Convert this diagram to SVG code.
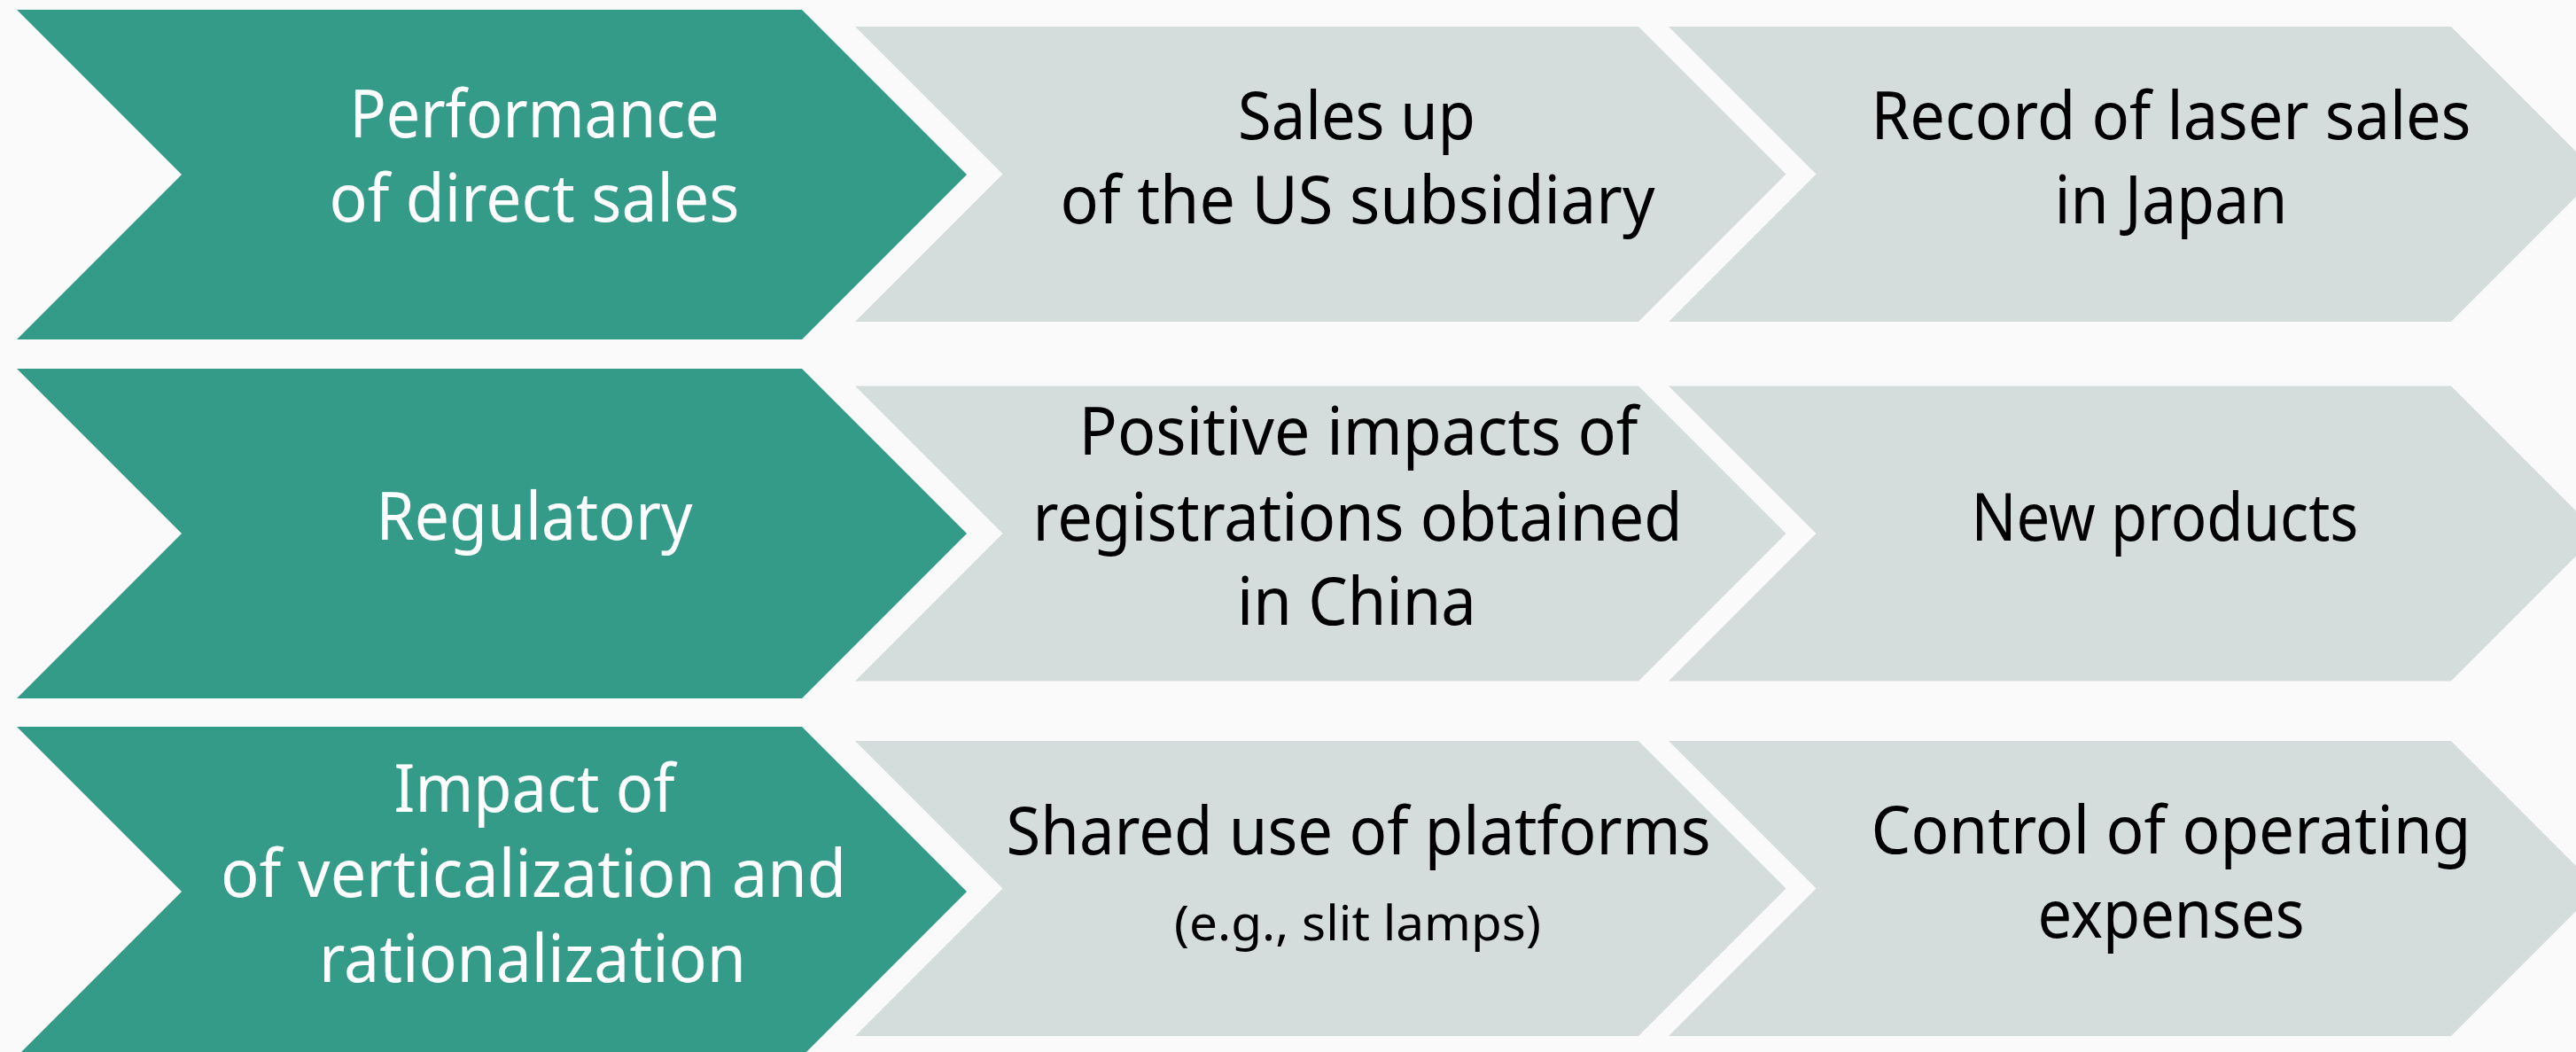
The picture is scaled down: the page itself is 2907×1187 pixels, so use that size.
<svg xmlns="http://www.w3.org/2000/svg" width="2907" height="1187" viewBox="0 0 2907 1187">
  <style>
    .bg { fill: #fafafa; }
    .lead { fill: #359b89; }
    .step { fill: #d5dcdc; }
    text { font-family: "Noto Sans", "Open Sans", "Liberation Sans", sans-serif; font-size: 75px; text-anchor: middle; }
    .lead-t { fill: #ffffff; }
    .step-t { fill: #000000; }
    .small { font-size: 54px; }
  </style>
  <rect class="bg" x="0" y="0" width="2907" height="1187"/>

  <!-- Row 1 -->
  <g id="direct-sales">
    <polygon class="lead" points="19,11 905,11 1091,197 905,383 19,383 205,197"/>
    <text class="lead-t" x="603" y="155" textLength="417" lengthAdjust="spacingAndGlyphs">Performance</text>
    <text class="lead-t" x="603" y="250" textLength="463" lengthAdjust="spacingAndGlyphs">of direct sales</text>
  </g>
  <g id="us-subsidiary">
    <polygon class="step" points="965,30 1849,30 2015.5,196.5 1849,363 965,363 1131.5,196.5"/>
    <text class="step-t" x="1531" y="157" textLength="268" lengthAdjust="spacingAndGlyphs">Sales up</text>
    <text class="step-t" x="1532" y="252" textLength="671" lengthAdjust="spacingAndGlyphs">of the US subsidiary</text>
  </g>
  <g id="laser-japan">
    <polygon class="step" points="1883,30 2766,30 2932.5,196.5 2766,363 1883,363 2049.5,196.5"/>
    <text class="step-t" x="2450" y="157" textLength="677" lengthAdjust="spacingAndGlyphs">Record of laser sales</text>
    <text class="step-t" x="2450" y="252" textLength="263" lengthAdjust="spacingAndGlyphs">in Japan</text>
  </g>

  <!-- Row 2 -->
  <g id="regulatory">
    <polygon class="lead" points="19,416 905,416 1091,602 905,788 19,788 205,602"/>
    <text class="lead-t" x="603" y="609" textLength="357" lengthAdjust="spacingAndGlyphs">Regulatory</text>
  </g>
  <g id="china-registrations">
    <polygon class="step" points="965,435.5 1849,435.5 2015.5,602 1849,768.5 965,768.5 1131.5,602"/>
    <text class="step-t" x="1533" y="513" textLength="631" lengthAdjust="spacingAndGlyphs">Positive impacts of</text>
    <text class="step-t" x="1532" y="610" textLength="733" lengthAdjust="spacingAndGlyphs">registrations obtained</text>
    <text class="step-t" x="1531" y="705" textLength="270" lengthAdjust="spacingAndGlyphs">in China</text>
  </g>
  <g id="new-products">
    <polygon class="step" points="1883,435.5 2766,435.5 2932.5,602 2766,768.5 1883,768.5 2049.5,602"/>
    <text class="step-t" x="2443" y="610" textLength="437" lengthAdjust="spacingAndGlyphs">New products</text>
  </g>

  <!-- Row 3 -->
  <g id="verticalization">
    <polygon class="lead" points="19,820 905,820 1091,1006 905,1192 19,1192 205,1006"/>
    <text class="lead-t" x="603" y="916" textLength="317" lengthAdjust="spacingAndGlyphs">Impact of</text>
    <text class="lead-t" x="602" y="1012" textLength="706" lengthAdjust="spacingAndGlyphs">of verticalization and</text>
    <text class="lead-t" x="601" y="1108" textLength="482" lengthAdjust="spacingAndGlyphs">rationalization</text>
  </g>
  <g id="shared-platforms">
    <polygon class="step" points="965,836 1849,836 2015.5,1002.5 1849,1169 965,1169 1131.5,1002.5"/>
    <text class="step-t" x="1533" y="964" textLength="795" lengthAdjust="spacingAndGlyphs">Shared use of platforms</text>
    <text class="step-t small" x="1532" y="1061" textLength="414" lengthAdjust="spacingAndGlyphs">(e.g., slit lamps)</text>
  </g>
  <g id="operating-expenses">
    <polygon class="step" points="1883,836 2766,836 2932.5,1002.5 2766,1169 1883,1169 2049.5,1002.5"/>
    <text class="step-t" x="2450" y="963" textLength="677" lengthAdjust="spacingAndGlyphs">Control of operating</text>
    <text class="step-t" x="2450" y="1058" textLength="301" lengthAdjust="spacingAndGlyphs">expenses</text>
  </g>

  <g id="connectors"/>
</svg>
